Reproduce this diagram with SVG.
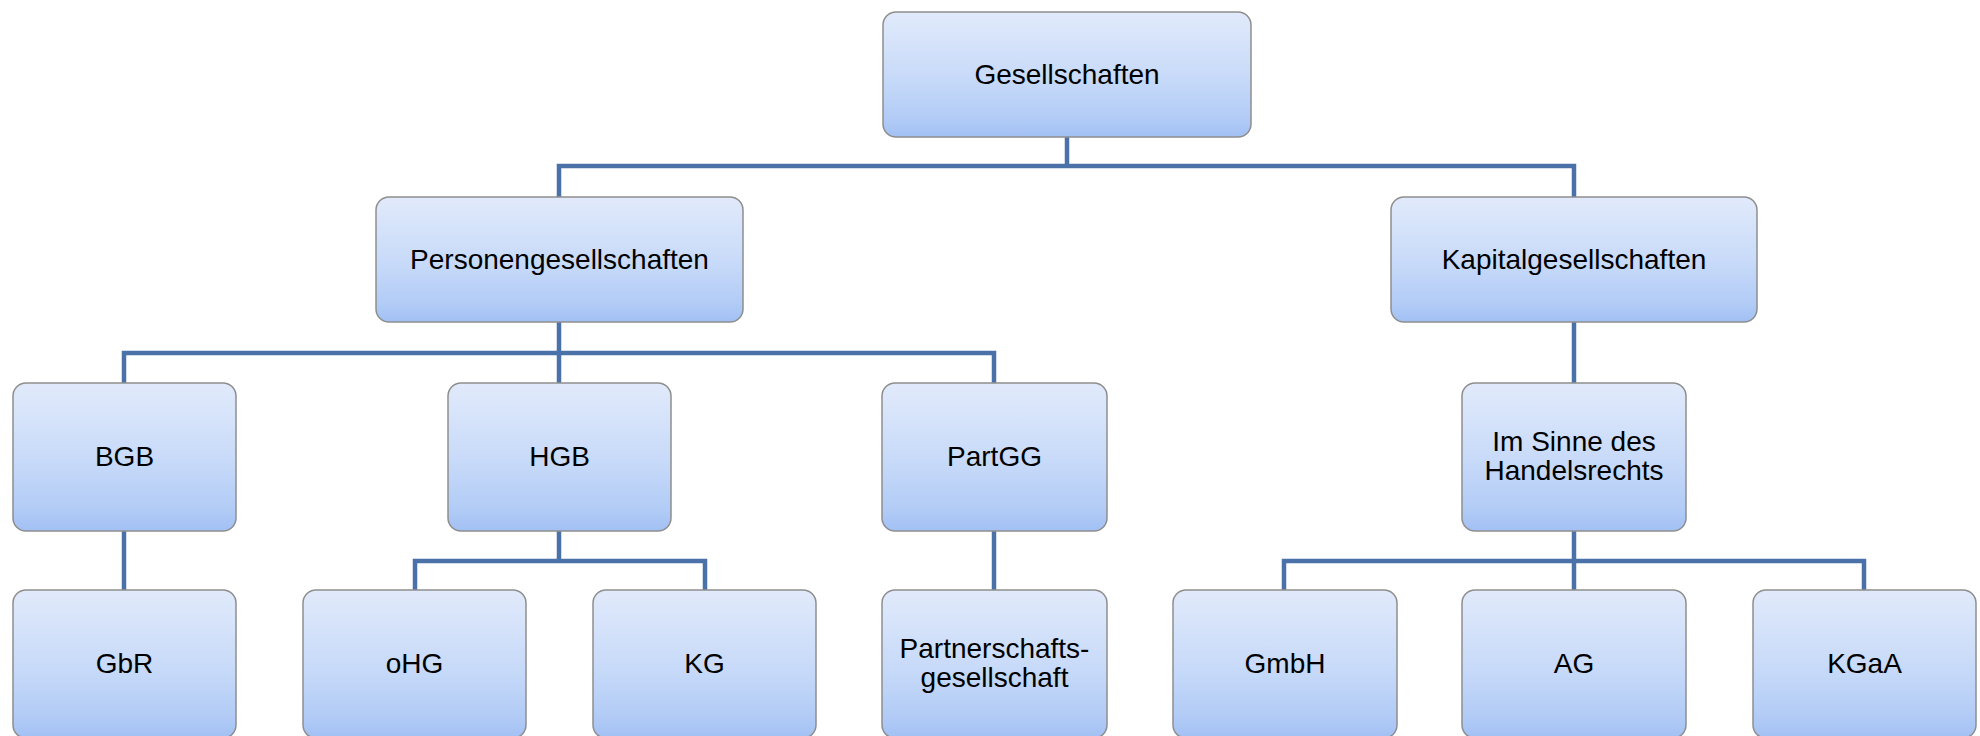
<svg xmlns="http://www.w3.org/2000/svg" width="1980" height="736" viewBox="0 0 1980 736">
<defs>
<linearGradient id="g" x1="0" y1="0" x2="0" y2="1">
<stop offset="0" stop-color="#e1eafb"/>
<stop offset="0.5" stop-color="#c9dbf9"/>
<stop offset="0.85" stop-color="#b2ccf6"/>
<stop offset="1" stop-color="#a2c0f4"/>
</linearGradient>
<style>
.box{fill:url(#g);stroke:#8e8e8e;stroke-width:1.5}
.t{font-family:"Liberation Sans",Arial,sans-serif;font-size:28px;fill:#000;text-anchor:middle}
.c{fill:none;stroke:#4a72a8;stroke-width:4.5;stroke-linejoin:miter}
</style>
</defs>
<rect width="1980" height="736" fill="#fff"/>
<g id="connectors">
<path class="c" d="M1067 137V166M559 197V166H1574V197"/>
<path class="c" d="M559 322V353M124 383V353H994V383M559 353V383"/>
<path class="c" d="M1574 322V383"/>
<path class="c" d="M124 531V590"/>
<path class="c" d="M559 531V561M415 590V561H705V590"/>
<path class="c" d="M994 531V590"/>
<path class="c" d="M1574 531V590M1284 590V561H1864V590"/>
</g>
<g id="n-gesellschaften"><rect class="box" x="883" y="12" width="368" height="125" rx="13"/><text class="t" x="1067" y="84">Gesellschaften</text></g>
<g id="n-personen"><rect class="box" x="376" y="197" width="367" height="125" rx="13"/><text class="t" x="559.5" y="269">Personengesellschaften</text></g>
<g id="n-kapital"><rect class="box" x="1391" y="197" width="366" height="125" rx="13"/><text class="t" x="1574" y="269">Kapitalgesellschaften</text></g>
<g id="n-bgb"><rect class="box" x="13" y="383" width="223" height="148" rx="13"/><text class="t" x="124.5" y="466">BGB</text></g>
<g id="n-hgb"><rect class="box" x="448" y="383" width="223" height="148" rx="13"/><text class="t" x="559.5" y="466">HGB</text></g>
<g id="n-partgg"><rect class="box" x="882" y="383" width="225" height="148" rx="13"/><text class="t" x="994.5" y="466">PartGG</text></g>
<g id="n-imsinne"><rect class="box" x="1462" y="383" width="224" height="148" rx="13"/><text class="t" x="1574" y="451">Im Sinne des</text><text class="t" x="1574" y="480">Handelsrechts</text></g>
<g id="n-gbr"><rect class="box" x="13" y="590" width="223" height="148" rx="13"/><text class="t" x="124.5" y="673">GbR</text></g>
<g id="n-ohg"><rect class="box" x="303" y="590" width="223" height="148" rx="13"/><text class="t" x="414.5" y="673">oHG</text></g>
<g id="n-kg"><rect class="box" x="593" y="590" width="223" height="148" rx="13"/><text class="t" x="704.5" y="673">KG</text></g>
<g id="n-partner"><rect class="box" x="882" y="590" width="225" height="148" rx="13"/><text class="t" x="994.5" y="658">Partnerschafts-</text><text class="t" x="994.5" y="687">gesellschaft</text></g>
<g id="n-gmbh"><rect class="box" x="1173" y="590" width="224" height="148" rx="13"/><text class="t" x="1285" y="673">GmbH</text></g>
<g id="n-ag"><rect class="box" x="1462" y="590" width="224" height="148" rx="13"/><text class="t" x="1574" y="673">AG</text></g>
<g id="n-kgaa"><rect class="box" x="1753" y="590" width="223" height="148" rx="13"/><text class="t" x="1864.5" y="673">KGaA</text></g>
</svg>
